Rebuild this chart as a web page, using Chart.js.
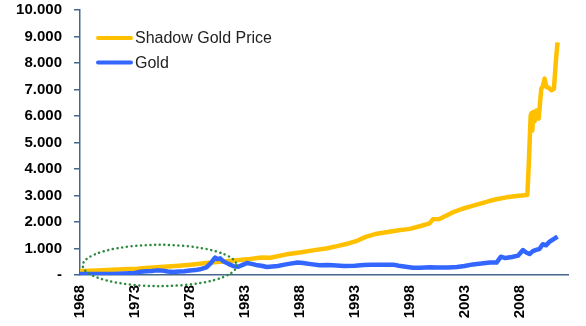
<!DOCTYPE html>
<html>
<head>
<meta charset="utf-8">
<script src="https://cdn.jsdelivr.net/npm/chart.js@4.4.1/dist/chart.umd.min.js"></script>
<style>
  html, body { margin: 0; padding: 0; background: #ffffff; }
  #wrap { width: 586px; height: 326px; }
</style>
</head>
<body>
<div id="wrap"><canvas id="chart" width="586" height="326"></canvas></div>
<script>
// Series: year (decimal) and price in USD per ounce
const shadowYears = [1968.0, 1969.0, 1970.0, 1971.0, 1972.0, 1973.2, 1974.0, 1975.0, 1976.0, 1977.0,
  1978.3, 1979.5, 1980.7, 1982.0, 1983.2, 1984.5, 1985.3, 1986.8, 1988.0, 1989.2,
  1990.5, 1991.5, 1992.5, 1993.2, 1994.0, 1995.0, 1996.0, 1997.0, 1998.0, 1999.0,
  1999.8, 2000.1, 2000.7, 2001.9, 2002.8, 2003.7, 2004.5, 2005.3, 2006.0, 2006.8,
  2007.7, 2008.7, 2008.82, 2009.0, 2009.06, 2009.15, 2009.25, 2009.36, 2009.52, 2009.73,
  2009.97, 2010.1, 2010.27, 2010.43, 2010.7, 2010.88, 2011.12, 2011.3, 2011.45];
const shadowValues = [150, 165, 180, 200, 220, 240, 265, 290, 320, 350,
  400, 450, 500, 545, 590, 660, 650, 780, 850, 930,
  1010, 1100, 1200, 1290, 1440, 1560, 1620, 1690, 1740, 1850,
  1950, 2100, 2110, 2360, 2500, 2610, 2700, 2800, 2870, 2930,
  2980, 3020, 4060, 6000, 6100, 5450, 6150, 5800, 6210, 5900,
  7040, 7100, 7410, 7100, 7050, 6970, 7030, 8100, 8780];

const goldYears = [1968.0, 1969.0, 1970.0, 1971.0, 1972.0, 1973.0, 1973.5, 1974.0, 1974.5, 1975.0,
  1975.5, 1976.0, 1976.5, 1977.0, 1977.5, 1978.0, 1978.5, 1978.9, 1979.5, 1979.9,
  1980.3, 1980.5, 1980.75, 1981.0, 1981.5, 1982.0, 1982.4, 1982.9, 1983.2, 1983.6,
  1984.0, 1984.5, 1985.0, 1985.5, 1986.0, 1986.6, 1987.0, 1987.8, 1988.3, 1989.0,
  1989.8, 1990.5, 1991.0, 1992.0, 1993.0, 1993.8, 1994.5, 1995.5, 1996.5, 1997.0,
  1997.8, 1998.3, 1999.0, 1999.8, 2000.5, 2001.5, 2002.3, 2003.0, 2003.75, 2004.5,
  2005.3, 2005.9, 2006.3, 2006.7, 2007.3, 2007.85, 2008.3, 2008.6, 2008.9, 2009.2,
  2009.5, 2009.8, 2010.1, 2010.4, 2010.7, 2011.0, 2011.2, 2011.45];
const goldValues = [40, 42, 36, 40, 55, 75, 120, 140, 150, 175,
  165, 130, 110, 135, 145, 170, 185, 215, 290, 450,
  660, 600, 630, 530, 420, 330, 310, 400, 450, 420,
  380, 350, 300, 320, 340, 390, 420, 470, 450, 410,
  370, 380, 370, 340, 345, 380, 385, 385, 390, 350,
  300, 270, 275, 290, 285, 280, 300, 340, 400, 430,
  470, 470, 690, 640, 680, 730, 940, 850, 790, 900,
  950, 980, 1160, 1120, 1250, 1330, 1380, 1450];

const seriesNames = ['Shadow Gold Price', 'Gold'];
const xTickYears = [1968, 1973, 1978, 1983, 1988, 1993, 1998, 2003, 2008];
const yTickValues = [0, 1000, 2000, 3000, 4000, 5000, 6000, 7000, 8000, 9000, 10000];
// Highlighted period: years and price range enclosed by the dotted ring
const ringYears = [1968.25, 1982.25];
const ringValues = [-420, 1140];

const YELLOW = '#ffc000';
const BLUE = '#3366ff';
const AXIS = '#46668c';
const RING = '#2e8b3e';

function zip(xs, ys) { return xs.map((x, i) => ({ x: x, y: ys[i] })); }
function fmtThousands(v) {
  if (v === 0) return '-';
  return String(v).replace(/\B(?=(\d{3})+(?!\d))/g, '.');
}

const ringPlugin = {
  id: 'ring',
  afterDatasetsDraw(chart) {
    const xs = chart.scales.x, ys = chart.scales.y, ctx = chart.ctx;
    const x0 = xs.getPixelForValue(ringYears[0]), x1 = xs.getPixelForValue(ringYears[1]);
    const y0 = ys.getPixelForValue(ringValues[1]), y1 = ys.getPixelForValue(ringValues[0]);
    ctx.save();
    ctx.strokeStyle = RING;
    ctx.lineWidth = 2.5;
    ctx.lineCap = 'round';
    ctx.setLineDash([0.1, 4.6]);
    ctx.beginPath();
    ctx.ellipse((x0 + x1) / 2, (y0 + y1) / 2, (x1 - x0) / 2, (y1 - y0) / 2, 0, 0, Math.PI * 2);
    ctx.stroke();
    ctx.restore();
  }
};

const legendPlugin = {
  id: 'insideLegend',
  afterDraw(chart) {
    const ctx = chart.ctx;
    const colors = [YELLOW, BLUE];
    ctx.save();
    ctx.font = '16px "Liberation Sans", Arial, sans-serif';
    ctx.textBaseline = 'middle';
    seriesNames.forEach((name, i) => {
      const y = 38 + i * 24.5;
      ctx.strokeStyle = colors[i];
      ctx.lineWidth = 4;
      ctx.lineCap = 'round';
      ctx.beginPath();
      ctx.moveTo(98, y);
      ctx.lineTo(131, y);
      ctx.stroke();
      ctx.fillStyle = '#222222';
      ctx.fillText(name, 135, y + 1);
    });
    ctx.restore();
  }
};

new Chart(document.getElementById('chart'), {
  type: 'line',
  data: {
    datasets: [
      { label: seriesNames[0], data: zip(shadowYears, shadowValues), borderColor: YELLOW,
        borderWidth: 4.5, pointRadius: 0, tension: 0, order: 1, borderJoinStyle: 'round' },
      { label: seriesNames[1], data: zip(goldYears, goldValues), borderColor: BLUE,
        borderWidth: 4.5, pointRadius: 0, tension: 0, order: 0, borderJoinStyle: 'round' }
    ]
  },
  options: {
    responsive: false,
    animation: false,
    devicePixelRatio: 1,
    layout: { padding: { top: 10, right: 18, left: 0, bottom: 0 } },
    plugins: { legend: { display: false }, tooltip: { enabled: false } },
    scales: {
      x: {
        type: 'linear',
        min: 1968,
        max: 2012.4,
        afterBuildTicks(scale) { scale.ticks = xTickYears.map(v => ({ value: v })); },
        afterFit(scale) { scale.height = 51; },
        ticks: {
          autoSkip: false, minRotation: 90, maxRotation: 90, padding: 10,
          color: '#000000',
          font: { family: '"Liberation Sans", Arial, sans-serif', size: 15, weight: 'bold' },
          callback: v => String(v)
        },
        grid: { drawOnChartArea: false, drawTicks: false },
        border: { display: true, color: AXIS, width: 1.5 }
      },
      y: {
        min: 0,
        max: 10000,
        afterBuildTicks(scale) { scale.ticks = yTickValues.map(v => ({ value: v })); },
        afterFit(scale) {
          scale.width = 80;
          scale.paddingTop = 0;
          scale.paddingBottom = 0;
        },
        ticks: {
          padding: 12,
          color: '#000000',
          font: { family: '"Liberation Sans", Arial, sans-serif', size: 15, weight: 'bold' },
          callback: v => fmtThousands(v)
        },
        grid: { drawOnChartArea: false, drawTicks: true, tickLength: 6, color: AXIS, lineWidth: 1.5 },
        border: { display: true, color: AXIS, width: 1.5 }
      }
    }
  },
  plugins: [ringPlugin, legendPlugin]
});
</script>
</body>
</html>
